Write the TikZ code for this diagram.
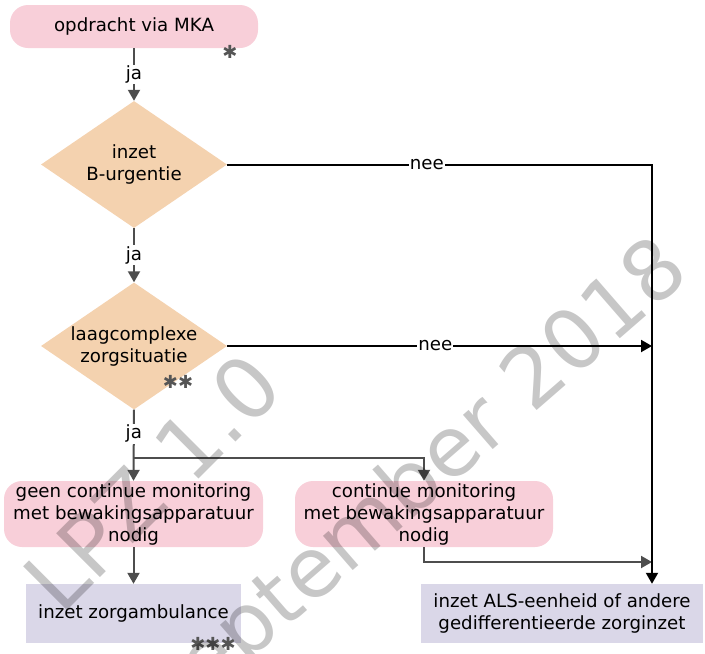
\documentclass[tikz,border=0pt]{standalone}
\usepackage{fontspec}
\setmainfont{DejaVu Sans}
\usetikzlibrary{shapes.geometric,arrows.meta}
\definecolor{pinkbox}{HTML}{F8CFD9}
\definecolor{diam}{HTML}{F4D2AF}
\definecolor{lav}{HTML}{DAD7E8}
\definecolor{lgray}{HTML}{4D4D4D}
\definecolor{stargray}{HTML}{555555}
\begin{document}
\begin{tikzpicture}[x=1pt,y=-1pt,
  font=\fontsize{18.2}{22}\selectfont,
  pill/.style={fill=pinkbox, rounded corners=18pt, inner sep=0pt, align=center},
  endbox/.style={fill=lav, inner sep=0pt, align=center, minimum height=59},
  dia/.style={diamond, fill=diam, inner sep=0pt, minimum width=186, minimum height=127},
  stars/.style={text=stargray, inner sep=0pt, font=\fontsize{18}{18}\selectfont},
  garrow/.style={draw=lgray, line width=2pt, -{Triangle[length=11pt,width=12pt]}},
  barrow/.style={draw=black, line width=2pt, -{Triangle[length=11pt,width=12pt]}},
  lbl/.style={fill=white, inner sep=1pt, text=black},
  wmark/.style={text=black, text opacity=0.22, inner sep=0pt}]
\path[use as bounding box] (0,0) rectangle (705,654);

% nodes
\node[pill, minimum width=248, minimum height=43] (top) at (134,26.5) {opdracht via MKA};
\node[stars] (s1) at (230,52) {✱};

\node[dia] (d1) at (134,164.5) {};
\node[align=center] (t1) at (d1.center) {inzet\\B-urgentie};

\node[dia] (d2) at (134,346) {};
\node[align=center] (t2) at (d2.center) {laagcomplexe\\zorgsituatie};
\node[stars] (s2) at (178,382) {✱✱};

\node[pill, minimum width=259, minimum height=66] (geen) at (133.5,514) {geen continue monitoring\\met bewakingsapparatuur\\nodig};
\node[pill, minimum width=258, minimum height=66] (cont) at (424,514) {continue monitoring\\met bewakingsapparatuur\\nodig};

\node[endbox, minimum width=215] (zorg) at (133.5,613.5) {inzet zorgambulance};
\node[stars] (s3) at (213,644) {✱✱✱};
\node[endbox, minimum width=282] (als) at (562,613.5) {inzet ALS-eenheid of andere\\gedifferentieerde zorginzet};

\coordinate (c1) at (652,164.5);
\coordinate (c2) at (652,562);
\coordinate (br) at (134,458);

% connectors
\draw[garrow] (top.south) -- node[lbl]{ja} (d1.north);
\draw[garrow] (d1.south) -- node[lbl]{ja} (d2.north);
\draw[garrow] (d2.south) -- node[lbl,pos=0.34]{ja} (geen.north);
\draw[garrow] (br) -- (br -| cont.north) -- (cont.north);
\draw[garrow] (geen.south) -- (zorg.north);
\draw[garrow] (cont.south) |- (c2);
\draw[barrow] (d1.east) -- node[lbl,pos=0.47]{nee} (c1) -- (c1 |- als.north);
\draw[barrow] (d2.east) -- node[lbl,pos=0.49]{nee} (c1 |- d2.east);

% watermark
\node[wmark, rotate=45, font=\fontsize{85}{85}\selectfont] (w1) at (152,482) {LPZ 1.0};
\node[wmark, rotate=41, font=\fontsize{83}{83}\selectfont] (w2) at (418,484) {september 2018};
\end{tikzpicture}
\end{document}
